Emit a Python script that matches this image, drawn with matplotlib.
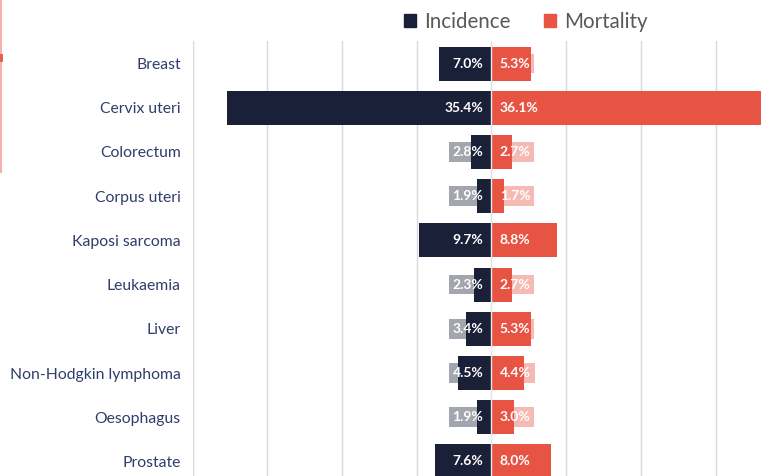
import numpy as np
import matplotlib
matplotlib.use("Agg")
import matplotlib.pyplot as plt
from matplotlib.patches import Patch
from matplotlib.lines import Line2D

plt.rcParams['font.family'] = ['Lato', 'DejaVu Sans']

# data
cancers = ["Breast", "Cervix uteri", "Colorectum", "Corpus uteri", "Kaposi sarcoma",
           "Leukaemia", "Liver", "Non-Hodgkin lymphoma", "Oesophagus", "Prostate"]
incidence = [7.0, 35.4, 2.8, 1.9, 9.7, 2.3, 3.4, 4.5, 1.9, 7.6]
mortality = [5.3, 36.1, 2.7, 1.7, 8.8, 2.7, 5.3, 4.4, 3.0, 8.0]
grid_ticks = [-40, -30, -20, -10, 0, 10, 20, 30, 40]

navy = "#1b2039"
red = "#e85444"

W, H = 781, 476
fig = plt.figure(figsize=(W / 100, H / 100), dpi=100)
ax = fig.add_axes([192.5 / W, -7.5 / H, 598 / W, 442 / H])

y = np.arange(len(cancers))
inc = np.array(incidence)
mor = np.array(mortality)

ax.barh(y, -inc, height=0.77, color=navy, zorder=2)
ax.barh(y, mor, height=0.77, color=red, zorder=2)

ax.set_xlim(-40, 40)
ax.set_ylim(len(cancers) - 0.5, -0.5)
ax.set_xticks(grid_ticks)
ax.xaxis.grid(True, color="#d9d9d9", lw=1, zorder=0)
ax.axvline(0, color="#e8e8e8", lw=1, zorder=3)
ax.tick_params(axis="x", bottom=False, labelbottom=False)
ax.tick_params(axis="y", left=False, pad=5, labelsize=11.3, labelcolor="#2e3d6b")
ax.set_yticks(y)
ax.set_yticklabels(cancers)
for s in ax.spines.values():
    s.set_visible(False)

# value labels with translucent boxes
for i in range(len(cancers)):
    ax.annotate(f"{inc[i]:.1f}%", (0, y[i]), xytext=(-6, 0), textcoords="offset points",
                ha="right", va="center", color="white", fontsize=10, fontweight="bold",
                zorder=4,
                bbox=dict(boxstyle="square,pad=0.28", fc=navy, ec="none", alpha=0.4))
    ax.annotate(f"{mor[i]:.1f}%", (0, y[i]), xytext=(6, 0), textcoords="offset points",
                ha="left", va="center", color="white", fontsize=10, fontweight="bold",
                zorder=4,
                bbox=dict(boxstyle="square,pad=0.28", fc=red, ec="none", alpha=0.4))

handles = [Patch(color=navy, label="Incidence"), Patch(color=red, label="Mortality")]
fig.legend(handles=handles, ncol=2, loc="center", bbox_to_anchor=(526 / W, 1 - 21.5 / H),
           frameon=False, fontsize=14.8, labelcolor="#595959", handlelength=0.6,
           handleheight=0.6, handletextpad=0.4, columnspacing=1.6)

# cropped edge of a neighbouring element on the left
fig.add_artist(Line2D([0.8 / W, 0.8 / W], [1, 1 - 172 / H], color="#f4b0aa", lw=1.5))
fig.add_artist(Line2D([0.8 / W, 0.8 / W], [1 - 55 / H, 1 - 60 / H], color=red, lw=2))

fig.savefig("out.png", dpi=100)
